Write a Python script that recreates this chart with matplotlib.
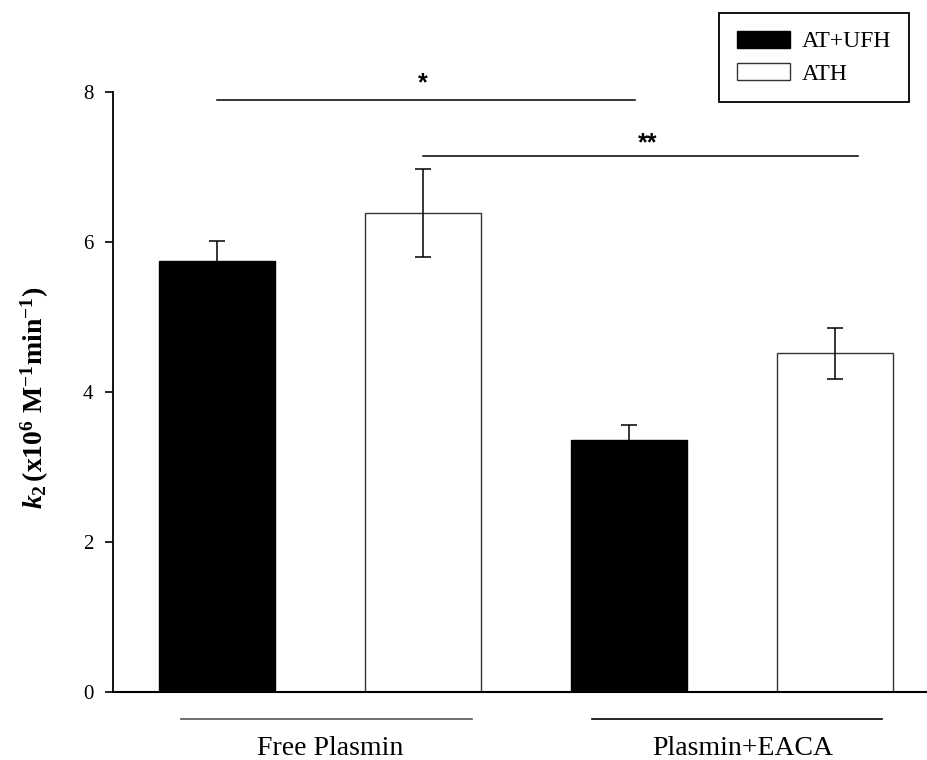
import matplotlib

matplotlib.use("Agg")
import matplotlib.pyplot as plt
import numpy as np

plt.rcParams["font.family"] = ["Liberation Serif", "DejaVu Serif"]
plt.rcParams["mathtext.fontset"] = "custom"
plt.rcParams["mathtext.rm"] = "Liberation Serif:bold"
plt.rcParams["mathtext.bf"] = "Liberation Serif:bold"
plt.rcParams["mathtext.it"] = "Liberation Serif:bold:italic"

# data
groups = ["Free Plasmin", "Plasmin+EACA"]
series = ["AT+UFH", "ATH"]
at_ufh = [5.75, 3.36]
at_ufh_err = [0.27, 0.20]
ath = [6.39, 4.52]
ath_err = [0.59, 0.34]
yticks = [0, 2, 4, 6, 8]

# significance brackets: (x start, x end, line y, star x, star top y, label)
sig_lines = [(0.0, 2.03, 7.89, 1.0, 8.28, "*"), (1.0, 3.11, 7.15, 2.09, 7.47, "**")]

fig = plt.figure(figsize=(9.27, 7.6), dpi=100)
ax = fig.add_axes([113 / 927, 68 / 760, 814 / 927, 600 / 760])

x_black = np.array([0, 2])
x_white = np.array([1, 3])
w = 0.56

ax.bar(x_black, at_ufh, w, color="black", edgecolor="black", linewidth=1, label=series[0], zorder=2)
ax.bar(x_white, ath, w, color="white", edgecolor="#333333", linewidth=1, label=series[1], zorder=2)
ax.errorbar(x_black, at_ufh, yerr=at_ufh_err, fmt="none", ecolor="black",
            elinewidth=1.1, capsize=6, capthick=1.1, zorder=3)
ax.errorbar(x_white, ath, yerr=ath_err, fmt="none", ecolor="black",
            elinewidth=1.1, capsize=6, capthick=1.1, zorder=3)

ax.set_xlim(-0.505, 3.447)
ax.set_ylim(0, 8)
ax.set_yticks(yticks)
ax.set_yticklabels([str(t) for t in yticks], fontsize=15)
ax.tick_params(axis="y", direction="out", length=6, width=1.2, pad=8)

ax.set_xticks([0.55, 2.55])
ax.set_xticklabels(groups, fontsize=20)
ax.tick_params(axis="x", length=0, pad=32)

for side in ["top", "right"]:
    ax.spines[side].set_visible(False)
ax.spines["left"].set_linewidth(1.3)
ax.spines["bottom"].set_linewidth(1.5)

# lines under the group labels
for x0, x1, col in [(-0.175, 1.24, "#555555"), (1.82, 3.23, "black")]:
    ax.plot([x0, x1], [-0.36, -0.36], color=col, lw=1.2, clip_on=False)

for x0, x1, y, sx, sy, lab in sig_lines:
    ax.plot([x0, x1], [y, y], color="black", lw=1.1, clip_on=False)
    ax.text(sx, sy, lab, ha="center", va="top", fontsize=18, fontweight="bold",
            family="Liberation Sans", clip_on=False)

ax.set_ylabel(r"$k_{2}\,\mathrm{(x10^{6}\ M^{-1}min^{-1})}$", fontsize=20)
ax.yaxis.set_label_coords(-0.076, 0.49)

leg = fig.legend(loc="upper right", bbox_to_anchor=(909 / 927, 1 - 13 / 760),
                 fontsize=17, frameon=True, fancybox=False, edgecolor="black",
                 framealpha=1, handlelength=2.25, handleheight=0.72,
                 borderpad=0.75, labelspacing=0.45, handletextpad=0.5, borderaxespad=0)
leg.get_frame().set_linewidth(1.3)

fig.savefig("out.png", dpi=100)
